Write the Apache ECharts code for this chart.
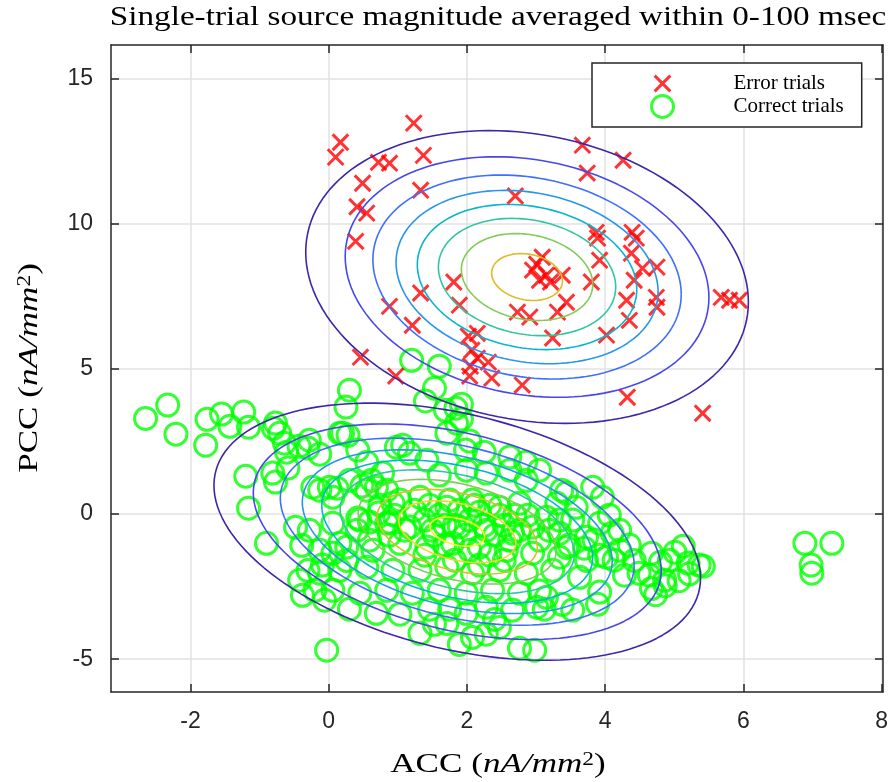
<!DOCTYPE html>
<html><head><meta charset="utf-8">
<script src="https://cdn.jsdelivr.net/npm/echarts@6/dist/echarts.min.js"></script>
<style>html,body{margin:0;padding:0;background:#fff}#chart{width:891px;height:782px}</style>
</head><body><div id="chart"></div>
<script>
// ---------- data ----------
const xTicks = [-2, 0, 2, 4, 6, 8];
const yTicks = [-5, 0, 5, 10, 15];
const xRange = [-3.15, 8.02];
const yRange = [-6.13, 16.15];

const errorTrials = [
[0.17,12.80],[0.10,12.29],[1.23,13.46],[0.72,12.11],[0.88,12.08],[1.37,12.35],[0.49,11.39],[1.33,11.15],
[0.41,10.58],[0.55,10.36],[0.39,9.39],[2.70,10.95],[3.67,12.70],[4.26,12.18],[3.74,11.74],[3.87,9.70],
[3.89,9.50],[4.39,9.70],[4.45,9.50],[3.92,8.74],[4.38,8.98],[4.54,8.46],[4.75,8.50],[3.80,7.99],
[4.42,8.05],[4.31,7.36],[4.74,7.46],[4.75,7.12],[4.35,6.67],[4.02,6.16],[3.09,8.84],[2.95,8.40],
[3.15,8.22],[3.38,8.22],[3.05,8.05],[3.44,7.29],[3.31,6.95],[2.73,6.95],[2.91,6.78],[3.24,6.06],
[2.80,4.44],[4.32,4.02],[5.41,3.47],[5.68,7.46],[5.80,7.36],[5.94,7.36],[1.81,7.99],[1.33,7.61],
[0.88,7.15],[1.21,6.50],[0.46,5.40],[0.97,4.75],[1.89,7.19],[2.02,6.12],[2.15,6.22],[2.07,5.64],
[2.15,5.37],[2.31,5.23],[2.04,4.75],[2.36,4.68],[2.05,5.09],[3.01,8.60],[3.21,7.99]
];

const correctTrials = [
[-2.65,3.29],[-2.33,3.75],[-2.21,2.75],[-1.76,3.26],[-1.55,3.44],[-1.43,3.02],[-1.23,3.51],[-1.16,2.99],
[-1.78,2.37],[-0.77,3.13],[-0.71,2.78],[-0.80,2.95],[-0.64,2.44],[-0.43,2.33],[-0.30,2.27],[-0.61,2.13],
[-0.81,1.41],[-0.77,1.10],[-0.59,1.58],[-1.20,1.30],[-1.16,0.20],[-0.90,-1.01],[0.30,4.26],[0.25,3.68],
[0.16,2.78],[0.28,2.71],[0.42,2.20],[0.55,1.78],[0.62,1.16],[0.48,0.96],[0.01,0.92],[-0.13,0.82],
[0.12,0.89],[-0.48,-0.46],[-0.39,-1.08],[-0.30,-1.95],[-0.09,-1.76],[0.06,-1.35],[0.26,-1.60],[0.16,-1.01],
[0.41,-0.56],[0.42,-0.14],[0.59,-0.28],[0.72,0.03],[0.88,-0.28],[0.98,2.30],[0.69,0.92],[0.84,0.82],
[1.20,5.29],[1.60,5.09],[1.40,3.89],[1.69,3.57],[1.53,4.33],[1.92,3.78],[1.84,3.64],[1.92,3.27],
[6.89,-1.01],[6.98,-1.76],[7.28,-1.01],[6.99,-2.04],[5.36,-1.76],[5.42,-1.80],[5.20,-1.69],[5.13,-1.11],
[5.01,-1.32],[4.80,-1.66],[4.67,-1.35],[5.22,-2.06],[5.07,-2.30],[4.87,-2.47],[4.73,-2.78],[4.67,-2.57],
[4.42,-1.60],[4.49,-2.04],[4.21,-1.25],[2.98,-4.69],[2.76,-4.62],[-0.03,-4.69],
[0.20,2.78],[-0.28,2.54],[1.07,2.37],[1.71,2.78],[1.85,3.13],[-0.13,2.06],[1.42,1.85],[1.17,2.09],
[2.62,1.96],[3.05,1.51],[3.82,0.92],[3.96,0.58],[3.44,0.72],[3.30,0.37],[2.86,1.16],[1.99,1.51],
[2.28,1.41],[1.60,1.34],[0.78,1.41],[0.30,1.16],[-0.23,0.92],[0.06,0.58],[0.55,0.82],[0.93,0.37],
[1.32,0.58],[1.71,0.23],[2.08,0.48],[2.47,0.23],[2.76,0.37],[3.15,-0.11],[3.53,-0.21],[3.92,-0.32],
[4.10,-0.66],[3.73,-0.80],[3.34,-0.66],[2.95,-0.45],[2.66,-0.66],[2.28,-0.56],[1.89,-0.45],[1.50,-0.56],
[1.17,-0.45],[0.84,-0.32],[0.45,-0.21],[0.06,-0.32],[-0.28,-0.56],[-0.13,-1.25],[0.26,-1.14],[0.64,-1.25],
[1.03,-1.01],[1.42,-1.14],[1.79,-1.01],[2.18,-1.14],[2.57,-1.25],[2.95,-1.35],[3.34,-1.49],[3.73,-1.60],
[4.02,-1.49],[3.63,-2.18],[3.24,-1.94],[2.86,-2.04],[2.47,-1.94],[2.08,-2.04],[1.71,-1.83],[1.32,-1.94],
[0.93,-1.94],[0.55,-1.83],[0.16,-1.94],[-0.13,-2.04],[0.06,-2.63],[0.45,-2.73],[0.84,-2.63],[1.21,-2.73],
[1.60,-2.63],[1.99,-2.73],[2.37,-2.63],[2.76,-2.73],[3.15,-2.87],[3.53,-3.31],[3.01,-3.21],[2.66,-3.31],
[2.28,-3.21],[1.99,-3.42],[1.71,-3.77],[1.32,-4.11],[0.69,-3.42],[2.08,-4.25],[2.47,-3.91],[3.44,-1.15],
[3.58,0.23],
[1.46,0.30],[1.60,-0.04],[1.75,0.48],[1.89,0.13],[2.04,-0.21],[2.18,0.06],[2.33,0.30],[2.47,-0.04],
[1.82,-0.39],[1.97,-0.73],[2.11,0.30],[2.25,-0.39],[2.40,-0.73],[2.54,-0.39],[2.69,-0.04],[1.39,-0.21],
[1.53,-0.73],[1.68,-0.39],[2.62,-0.90],[2.76,-0.56],[2.88,-0.04],[3.05,-0.90],[1.68,-1.07],[2.04,-1.25],
[2.33,-1.42],[2.54,-1.59],[1.39,-1.42],[1.82,-1.59],[2.18,-1.76],[0.95,-0.04],[1.10,-0.56],[1.24,0.13],
[1.03,0.48],[0.88,-0.73],[0.74,0.30],[0.59,-0.90],[3.19,-0.56],[3.34,-0.21],[3.48,-1.07],[3.70,-1.18],
[3.84,-0.90],[4.06,-0.04],[4.21,-0.56],[4.35,-1.07],[4.13,-1.59],[3.92,-1.42],[4.28,-2.11],[4.64,-2.11],
[4.93,-1.59],[4.86,-2.28],
[2.25,2.13],[3.37,0.82],[1.98,2.20],[2.04,2.51],[2.62,1.51],[2.85,1.78],
[1.53,-3.80],[1.89,-4.49],[2.28,-4.14],[2.40,-3.63],[3.12,-3.28],[3.38,-3.11],[3.89,-3.11],[3.92,-2.69],
[3.05,-2.65],[1.75,-3.28],[1.46,-3.28],[1.03,-3.45],[0.30,-3.28],[-0.20,-2.63],[-0.38,-2.80],[-0.06,-2.97],
[-0.42,-2.28]
];

// Gaussian mixture components (error cluster, correct cluster)
const gaussMeans  = [[2.87, 8.16], [1.86, -0.61]];
const gaussSigmas = [[1.55, 2.44], [1.63, 2.05]];
const gaussRho    = [-0.17, -0.36];
const gaussPeaks  = [8.45, 10.3];           // peak density in units of the contour step
const contourLevels = [1, 2, 3, 4, 5, 6, 7, 8, 9, 10];

// ---------- style ----------
const levelColors = ['#3e26a8','#4747eb','#3e6fff','#2796eb','#08b5d0','#31c69f','#81cc59','#dcbd29','#fccf30','#f9fb14'];
const xMark = 'path://M-2,-2L-2,-2M0,0L10,10M10,0L0,10M12,12L12,12';
const axisColor = '#262626';
const serif = '"Liberation Serif", "Times New Roman", serif';
const sans = '"Liberation Sans", Arial, sans-serif';

function ellipse(c, level) {
  const d = Math.sqrt(2 * Math.log(gaussPeaks[c] / level));
  const [mx, my] = gaussMeans[c], [sx, sy] = gaussSigmas[c], r = gaussRho[c];
  const pts = [];
  for (let i = 0; i <= 144; i++) {
    const t = i / 144 * 2 * Math.PI;
    pts.push([mx + d * sx * Math.cos(t), my + d * sy * (r * Math.cos(t) + Math.sqrt(1 - r * r) * Math.sin(t))]);
  }
  return pts;
}

const contourSeries = [];
gaussMeans.forEach((m, c) => {
  contourLevels.forEach((lv, k) => {
    if (lv >= gaussPeaks[c]) return;
    contourSeries.push({
      type: 'line', data: ellipse(c, lv), showSymbol: false, symbol: 'none', silent: true,
      lineStyle: { color: levelColors[k], width: 1.6 }, z: 5, animation: false
    });
  });
});

const tickStyle = { lineStyle: { color: axisColor, width: 1.5 } };
function mkX(pos, labels) {
  return {
    type: 'value', position: pos, min: xRange[0], max: xRange[1],
    axisLine: { show: true, onZero: false, lineStyle: { color: axisColor, width: 1.5 } },
    axisTick: { show: true, inside: true, length: 8, customValues: xTicks, ...tickStyle },
    axisLabel: { show: labels, customValues: xTicks, margin: 18, color: axisColor, fontFamily: sans, fontSize: 23 },
    splitLine: { show: labels, lineStyle: { color: '#e2e2e2', width: 1.5 } }
  };
}
function mkY(pos, labels) {
  return {
    type: 'value', position: pos, min: yRange[0], max: yRange[1],
    axisLine: { show: true, onZero: false, lineStyle: { color: axisColor, width: 1.5 } },
    axisTick: { show: true, inside: true, length: 8, customValues: yTicks, ...tickStyle },
    axisLabel: { show: labels, customValues: yTicks, margin: 18, color: axisColor, fontFamily: sans, fontSize: 23 },
    splitLine: { show: labels, lineStyle: { color: '#e2e2e2', width: 1.5 } }
  };
}

const unitRich = (fs) => ({
  r: { fontFamily: serif, fontSize: fs, fill: '#000' },
  i: { fontFamily: serif, fontSize: fs, fontStyle: 'italic', fill: '#000' },
  s: { fontFamily: serif, fontSize: Math.round(fs * 0.68), fill: '#000', verticalAlign: 'top' }
});

const chart = echarts.init(document.getElementById('chart'), null, { renderer: 'canvas' });
chart.setOption({
  animation: false,
  grid: { left: 111, right: 7, top: 45, bottom: 90, containLabel: false },
  xAxis: [mkX('bottom', true), mkX('top', false)],
  yAxis: [mkY('left', true), mkY('right', false)],
  legend: {
    orient: 'vertical', left: 592, top: 63, itemWidth: 132, itemHeight: 22, itemGap: -2,
    padding: [8, 18, 8, 58], borderColor: axisColor, borderWidth: 1.5, backgroundColor: '#fff',
    selectedMode: false, textStyle: { fontFamily: serif, fontSize: 21, lineHeight: 22, color: '#000' },
    data: [
      { name: 'Error trials', icon: xMark, itemStyle: { color: 'rgba(0,0,0,0)', borderColor: '#ff0000', borderWidth: 3 } },
      { name: 'Correct trials', icon: 'circle', itemStyle: { color: 'rgba(0,0,0,0)', borderColor: '#00ff00', borderWidth: 3 } }
    ]
  },
  graphic: [
    { type: 'text', x: 498, y: 18, scaleX: 1.23, z: 100,
      style: { text: 'Single-trial source magnitude averaged within 0-100 msec', font: '27px ' + serif,
               fill: '#000', align: 'center', textAlign: 'center', verticalAlign: 'middle', textVerticalAlign: 'middle' } },
    { type: 'text', x: 498, y: 765, scaleX: 1.3, z: 100,
      style: { text: '{r|ACC (}{i|nA/mm}{s|2}{r|)}', rich: unitRich(27),
               align: 'center', textAlign: 'center', verticalAlign: 'middle', textVerticalAlign: 'middle' } },
    { type: 'text', x: 30, y: 368, rotation: Math.PI / 2, scaleX: 1.3, z: 100,
      style: { text: '{r|PCC (}{i|nA/mm}{s|2}{r|)}', rich: unitRich(27),
               align: 'center', textAlign: 'center', verticalAlign: 'middle', textVerticalAlign: 'middle' } }
  ],
  series: [
    { name: 'Error trials', type: 'scatter', data: errorTrials, symbol: xMark, symbolSize: 22, z: 3,
      itemStyle: { color: 'rgba(0,0,0,0)', borderColor: '#ff0000', borderWidth: 3 }, emphasis: { disabled: true } },
    { name: 'Correct trials', type: 'scatter', data: correctTrials, symbol: 'circle', symbolSize: 22, z: 2,
      itemStyle: { color: 'rgba(0,0,0,0)', borderColor: '#00ff00', borderWidth: 3 }, emphasis: { disabled: true } },
    ...contourSeries
  ]
});
</script></body></html>
